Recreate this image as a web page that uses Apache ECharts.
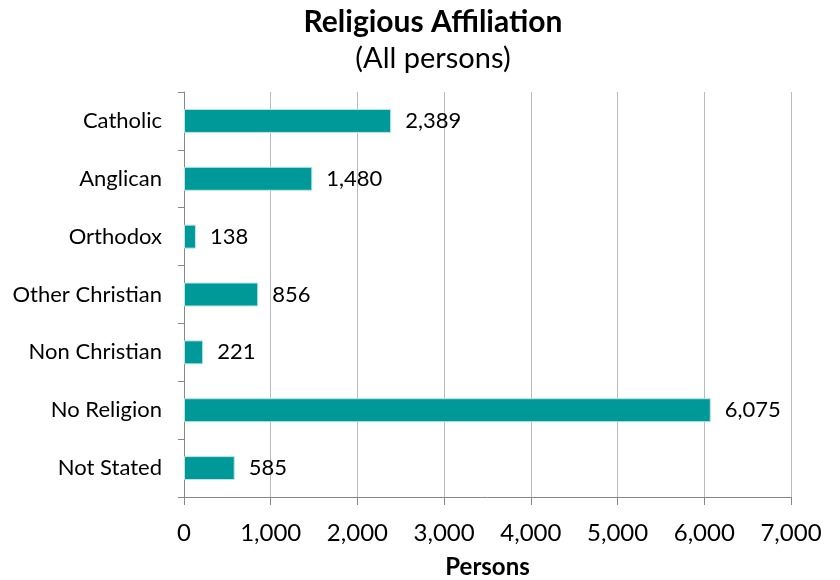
<!DOCTYPE html>
<html><head><meta charset="utf-8">
<script src="https://cdn.jsdelivr.net/npm/echarts@6/dist/echarts.min.js"></script>
<style>html,body{margin:0;padding:0;background:#fff}#c{width:840px;height:580px}</style>
</head><body><div id="c"></div>
<script>
const categories = ["Catholic","Anglican","Orthodox","Other Christian","Non Christian","No Religion","Not Stated"];
const values = [2389,1480,138,856,221,6075,585];
const xTicks = [0,1000,2000,3000,4000,5000,6000,7000];
const FONT = "Lato, 'Open Sans', sans-serif";
const chart = echarts.init(document.getElementById('c'));
chart.setOption({
  backgroundColor:'#fff',
  animation:false,
  title:[
    {text:'Religious Affiliation',left:428,top:2,textAlign:'center',textStyle:{fontFamily:FONT,fontSize:30,fontWeight:'bold',color:'#000'}},
    {text:'(All persons)',left:428,top:39,textAlign:'center',textStyle:{fontFamily:FONT,fontSize:29,fontWeight:'normal',color:'#000'}}
  ],
  grid:{left:184,right:49,top:92,bottom:83,containLabel:false,outerBoundsMode:'none'},
  xAxis:{type:'value',min:xTicks[0],max:xTicks[xTicks.length-1],interval:1000,
    name:'Persons',nameLocation:'middle',nameGap:58,
    nameTextStyle:{fontFamily:FONT,fontSize:24,fontWeight:'bold',color:'#000'},
    axisLine:{show:true,lineStyle:{color:'#888'}},
    axisTick:{show:true,length:8,lineStyle:{color:'#888'}},
    axisLabel:{fontFamily:FONT,fontSize:24,color:'#000',margin:24,formatter:v=>v.toLocaleString('en-US')},
    splitLine:{show:true,lineStyle:{color:'#bbb'}}},
  yAxis:{type:'category',data:categories,inverse:true,
    axisLine:{show:true,lineStyle:{color:'#888'}},
    axisTick:{show:true,length:6,lineStyle:{color:'#888'}},
    axisLabel:{fontFamily:FONT,fontSize:22,color:'#000',margin:22}},
  series:[{type:'bar',data:values,barWidth:24,
    itemStyle:{color:'#009999',borderColor:'#bfe6e6',borderWidth:1},
    label:{show:true,position:'right',distance:14,fontFamily:FONT,fontSize:22,color:'#000',
      formatter:p=>p.value.toLocaleString('en-US')}}]
});
</script></body></html>
